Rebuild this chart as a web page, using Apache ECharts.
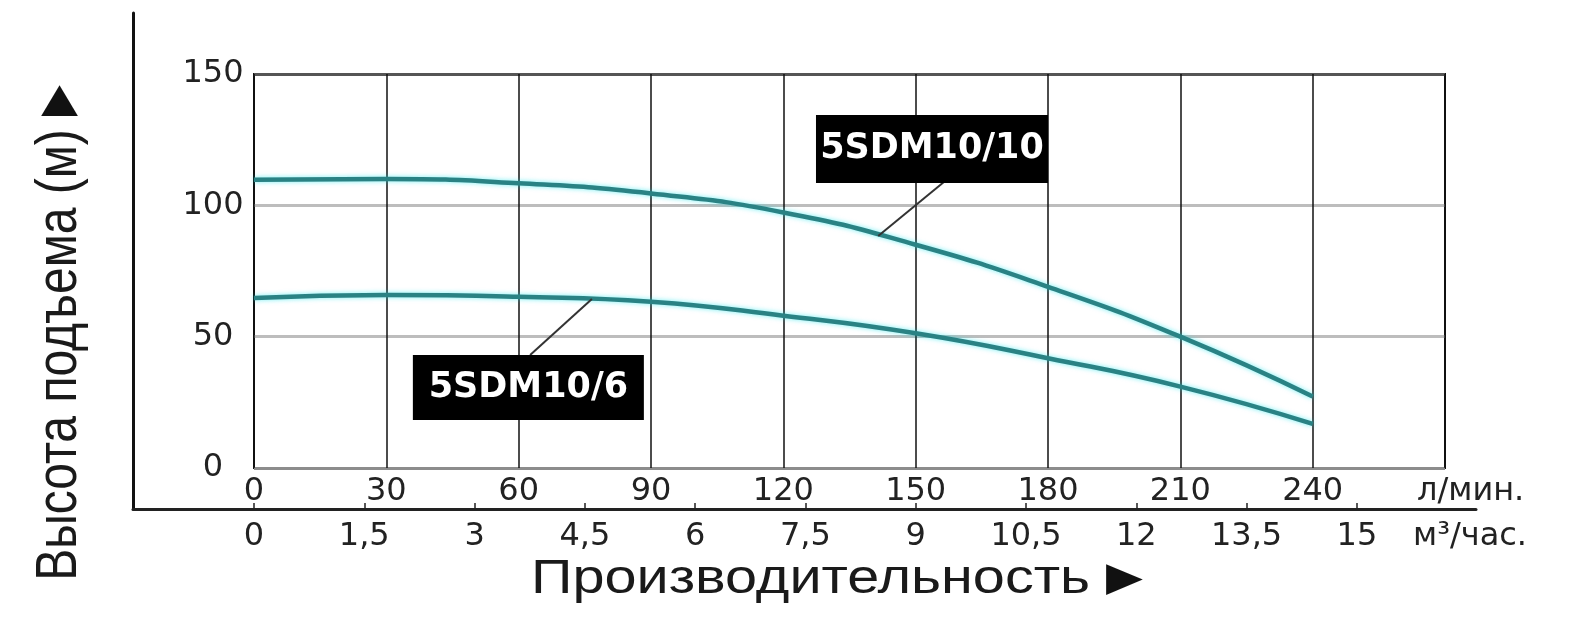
<!DOCTYPE html>
<html>
<head>
<meta charset="utf-8">
<script src="https://cdn.jsdelivr.net/npm/echarts@6.0.0/dist/echarts.min.js"></script>
<style>
html,body{margin:0;padding:0;background:#fff}
#chart{width:1573px;height:619px}
</style>
</head>
<body>
<div id="chart"></div>
<script>
// подача, л/мин
var flowLpm = [0, 30, 60, 90, 120, 150, 180, 210, 240];
// напор, м
var head10 = [109.7, 110, 108.4, 104.5, 97.3, 85, 69, 50, 27.2];
var head6 = [64.7, 65.9, 65.2, 63.3, 58, 51.3, 41.8, 31, 16.8];
// подписи осей
var lpmTicks = [0, 30, 60, 90, 120, 150, 180, 210, 240];
var m3Ticks = [0, 1.5, 3, 4.5, 6, 7.5, 9, 10.5, 12, 13.5, 15];
var pumpNames = ['5SDM10/10', '5SDM10/6'];

function toPairs(xs, ys) {
	var out = [];
	for (var i = 0; i < xs.length; i++) {
		out.push([xs[i], ys[i]]);
	}
	return out;
}

var tickFont = {fontFamily: '"DejaVu Sans"', fontSize: 32, color: '#222'};

var curveStyle = {
	color: '#2a8284',
	width: 4.5,
	shadowColor: 'rgba(0,225,235,0.55)',
	shadowBlur: 5
};

var calloutLabel = {
	show: true,
	position: 'inside',
	formatter: '{b}',
	color: '#fff',
	fontFamily: '"DejaVu Sans"',
	fontWeight: 'bold',
	fontSize: 35
};

var leaderStyle = {type: 'solid', color: '#333', width: 2};

var chart = echarts.init(document.getElementById('chart'));
var option = {
	animation: false,
	backgroundColor: '#fff',
	grid: [
		{left: 254, right: 128, top: 74, bottom: 151, show: true, borderColor: '#111', borderWidth: 2},
		{left: 133, right: 97, top: 13, bottom: 110}
	],
	xAxis: [
		{
			type: 'value',
			gridIndex: 0,
			min: 0,
			max: 270,
			interval: 30,
			axisLine: {show: false},
			axisTick: {show: false},
			axisLabel: Object.assign({customValues: lpmTicks, margin: 8}, tickFont),
			splitLine: {show: true, lineStyle: {color: '#111', width: 1.5}},
			name: 'л/мин.',
			nameLocation: 'end',
			nameGap: -28,
			nameTextStyle: Object.assign({verticalAlign: 'top', padding: [8, 0, 0, 0]}, tickFont)
		},
		{
			type: 'value',
			gridIndex: 1,
			min: -1.6456,
			max: 16.62,
			axisLine: {show: true, onZero: false, lineStyle: {color: '#222', width: 3}},
			axisTick: {show: true, customValues: m3Ticks, inside: true, length: 6, lineStyle: {color: '#222', width: 1.5}},
			axisLabel: Object.assign({
				customValues: m3Ticks,
				margin: 12,
				formatter: function (v) { return String(v).replace('.', ','); }
			}, tickFont),
			splitLine: {show: false},
			name: 'м³/час.',
			nameLocation: 'end',
			nameGap: -63,
			nameTextStyle: Object.assign({verticalAlign: 'top', padding: [12, 0, 0, 0]}, tickFont)
		}
	],
	yAxis: [
		{
			type: 'value',
			gridIndex: 0,
			min: 0,
			max: 150,
			interval: 50,
			axisLine: {show: false},
			axisTick: {show: false},
			axisLabel: Object.assign({margin: 41, align: 'center'}, tickFont),
			splitLine: {show: true, lineStyle: {color: ['#8c8c8c', '#bdbdbd', '#bdbdbd', '#555'], width: 3}}
		},
		{
			type: 'value',
			gridIndex: 1,
			min: 0,
			max: 1,
			axisLine: {show: true, onZero: false, lineStyle: {color: '#111', width: 3}},
			axisTick: {show: false},
			axisLabel: {show: false},
			splitLine: {show: false}
		}
	],
	series: [
		{
			name: pumpNames[0],
			type: 'line',
			xAxisIndex: 0,
			yAxisIndex: 0,
			smooth: true,
			showSymbol: false,
			lineStyle: curveStyle,
			data: toPairs(flowLpm, head10),
			markLine: {
				silent: true,
				symbol: ['none', 'none'],
				label: {show: false},
				lineStyle: leaderStyle,
				data: [[{coord: [141.5, 88.3]}, {coord: [156.4, 108.9]}]]
			},
			markPoint: {
				silent: true,
				symbol: 'rect',
				symbolSize: [232, 68],
				itemStyle: {color: '#000'},
				label: calloutLabel,
				data: [{name: pumpNames[0], coord: [153.7, 121.4]}]
			}
		},
		{
			name: pumpNames[1],
			type: 'line',
			xAxisIndex: 0,
			yAxisIndex: 0,
			smooth: true,
			showSymbol: false,
			lineStyle: curveStyle,
			data: toPairs(flowLpm, head6),
			markLine: {
				silent: true,
				symbol: ['none', 'none'],
				label: {show: false},
				lineStyle: leaderStyle,
				data: [[{coord: [76.6, 64.3]}, {coord: [62.6, 43.0]}]]
			},
			markPoint: {
				silent: true,
				symbol: 'rect',
				symbolSize: [231, 65],
				itemStyle: {color: '#000'},
				label: calloutLabel,
				data: [{name: pumpNames[1], coord: [62.2, 30.6]}]
			}
		}
	],
	graphic: [
		{
			type: 'text',
			x: 60,
			y: 333,
			rotation: Math.PI / 2,
			scaleY: 1.2,
			style: {
				text: 'Высота подъема (м) {t|▶}',
				fontFamily: '"Liberation Sans"',
				fontSize: 48,
				fill: '#1a1a1a',
				align: 'center',
				verticalAlign: 'middle',
				rich: {t: {fontFamily: '"DejaVu Sans"', fontSize: 40, fill: '#111'}}
			}
		},
		{
			type: 'text',
			x: 837,
			y: 580,
			scaleX: 1.2,
			style: {
				text: 'Производительность {t|▶}',
				fontFamily: '"Liberation Sans"',
				fontSize: 48,
				fill: '#1a1a1a',
				align: 'center',
				verticalAlign: 'middle',
				rich: {t: {fontFamily: '"DejaVu Sans"', fontSize: 40, fill: '#111'}}
			}
		}
	]
};
chart.setOption(option);
</script>
</body>
</html>
